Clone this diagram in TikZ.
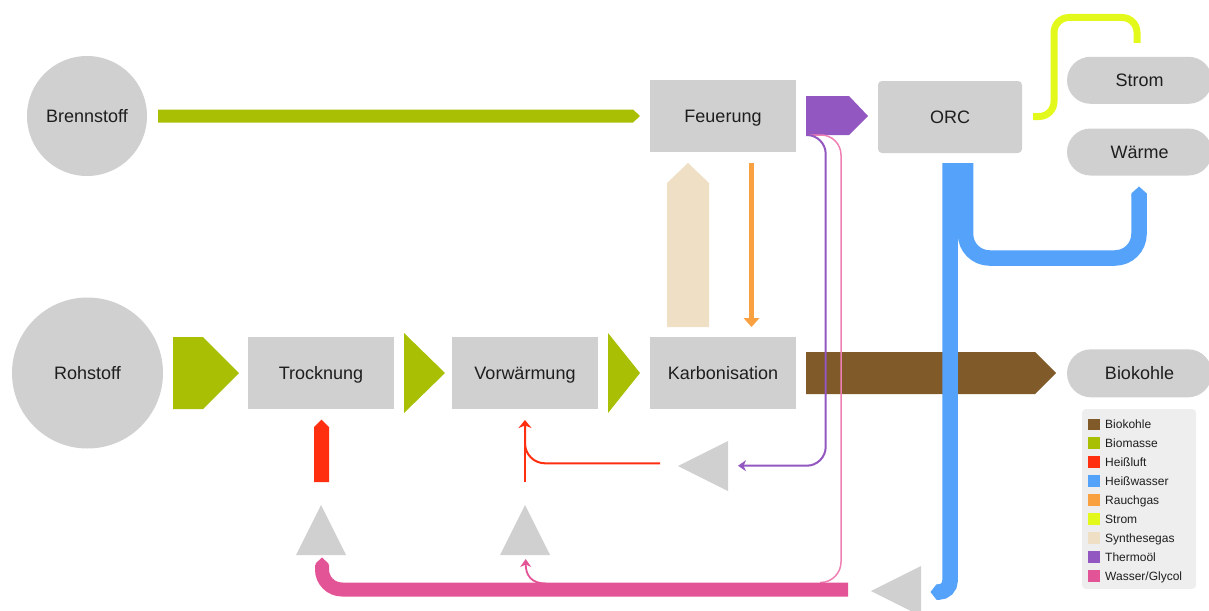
\documentclass[tikz,border=0pt]{standalone}
\usepackage{fontspec}
\setmainfont{Liberation Sans}
\usetikzlibrary{arrows.meta}
\definecolor{nodegray}{HTML}{D0D0D0}
\definecolor{txt}{HTML}{1E1E1E}
\definecolor{cBiokohle}{HTML}{805A28}
\definecolor{cBiomasse}{HTML}{A8BF04}
\definecolor{cHeissluft}{HTML}{FF2F10}
\definecolor{cHeisswasser}{HTML}{55A2FB}
\definecolor{cRauchgas}{HTML}{F9A040}
\definecolor{cStrom}{HTML}{E3F91C}
\definecolor{cSynthesegas}{HTML}{EFDFC4}
\definecolor{cThermooel}{HTML}{9257C0}
\definecolor{cGlycol}{HTML}{E35497}
\definecolor{cGlycolThin}{HTML}{EE80B4}
\definecolor{legbg}{HTML}{EEEEEE}
\tikzset{
  gnode/.style={fill=nodegray, draw=none, inner sep=0pt, text=txt, text height=13pt, text depth=0pt, font=\fontsize{18}{20}\selectfont},
  circnode/.style={gnode, circle},
  boxnode/.style={gnode, rectangle, minimum width=146, minimum height=72},
  pill/.style={gnode, rectangle, rounded corners=23.5, minimum width=145, minimum height=47},
  tri/.style={fill=nodegray, draw=none},
  legtext/.style={anchor=west, inner sep=0pt, text=txt, text height=8.6pt, text depth=0pt, font=\fontsize{12}{14}\selectfont},
  thin/.style={line width=2, line cap=butt},
}
\begin{document}
\begin{tikzpicture}[x=1pt, y=-1pt]
\useasboundingbox (0,0) rectangle (1209,610);
\clip (0,0) rectangle (1209,610);

% ---------------- nodes ----------------
\node[circnode, minimum size=120] (brenn) at (87,116) {Brennstoff};
\node[circnode, minimum size=151] (roh) at (87.5,373) {Rohstoff};
\node[boxnode] (feu) at (723,116) {Feuerung};
\node[boxnode, rounded corners=4, minimum width=144, minimum height=72] (orc) at (950,117) {ORC};
\node[boxnode] (troc) at (321,373) {Trocknung};
\node[boxnode] (vorw) at (525,373) {Vorwärmung};
\node[boxnode] (karb) at (723,373) {Karbonisation};
\node[pill] (strom) at (1139.5,80.3) {Strom};
\node[pill] (waerme) at (1139.5,152) {Wärme};
\node[pill, minimum height=48, rounded corners=24] (bio) at (1139.5,373.3) {Biokohle};

% gray triangles (splitters)
\fill[tri] (296,555) -- (321,505) -- (346,555) -- cycle;
\fill[tri] (500,555) -- (525,505) -- (550,555) -- cycle;
\fill[tri] (678,466) -- (728,441) -- (728,491) -- cycle;
\fill[tri] (871,591) -- (921,566) -- (921,616) -- cycle;

% ---------------- flows ----------------
% Biomasse
\fill[cBiomasse] (158,109.5) -- (633,109.5) -- (640,116) -- (633,122.5) -- (158,122.5) -- cycle;
\fill[cBiomasse] (173,337) -- (203,337) -- (239,373) -- (203,409) -- (173,409) -- cycle;
\fill[cBiomasse] (404,333) -- (445,373) -- (404,413) -- cycle;
\fill[cBiomasse] (608,333) -- (640,373) -- (608,413) -- cycle;

% Synthesegas
\fill[cSynthesegas] (667,327) -- (667,183) -- (688,163) -- (709,183) -- (709,327) -- cycle;

% Rauchgas
\draw[cRauchgas, line width=5.5] (751.5,162.5) -- (751.5,319);
\fill[cRauchgas] (743.5,318) -- (759.5,318) -- (751.5,327) -- cycle;

% Thermooel (thick)
\fill[cThermooel] (806,96) -- (849,96) -- (868,116) -- (849,135) -- (806,135) -- cycle;

% Biokohle
\fill[cBiokohle] (806,352) -- (1035,352) -- (1056,373) -- (1035,394) -- (806,394) -- cycle;

% Thermooel (thin) and Wasser/Glycol (thin)
\draw[cGlycolThin, line width=1.5, rounded corners=20] (806,135) -- (841,135) -- (841,582) -- (820,582.5);
\draw[cThermooel, thin, rounded corners=19, -{Stealth[length=8pt,width=11pt,inset=2.5pt]}] (806,135) -- (825.7,135) -- (825.7,465.7) -- (738,465.7);

% Wasser/Glycol thick
\draw[cGlycol, line width=14, rounded corners=20] (848,589.5) -- (322,589.5) -- (322,565);
\fill[cGlycol] (315.5,566) -- (315.5,563.5) -- (322,557.5) -- (328.5,563.5) -- (328.5,566) -- cycle;
\draw[cGlycol, line width=1.8, -{Stealth[length=8pt,width=11pt,inset=2.5pt]}] (546,583.5) .. controls (531,583.5) and (525.7,575) .. (525.7,559);

% Heissluft
\fill[cHeissluft] (314,482) -- (314,427) -- (321.5,419.5) -- (329,427) -- (329,482) -- cycle;
\draw[cHeissluft, line width=2.5] (525,482) -- (525,430);
\draw[cHeissluft, line width=2, rounded corners=20, -{Stealth[length=8pt,width=13pt,inset=2.5pt]}] (660,463.3) -- (525,463.3) -- (525,420);

% Heisswasser
\draw[cHeisswasser, line width=15.5, rounded corners=24] (965.5,163) -- (965.5,258) -- (1139,258) -- (1139,195);
\fill[cHeisswasser] (1131.25,196) -- (1131.25,193.5) -- (1139,186.5) -- (1146.75,193.5) -- (1146.75,196) -- cycle;
\draw[cHeisswasser, line width=15.5, rounded corners=11] (950,163) -- (950,592) -- (937,592);
\fill[cHeisswasser] (938,584.25) -- (936.5,584.25) -- (930.5,592) -- (936.5,599.75) -- (938,599.75) -- cycle;

% Strom
\draw[cStrom, line width=7, rounded corners=15] (1033,116.5) -- (1054,116.5) -- (1054,17.5) -- (1137,17.5) -- (1137,43);

% ---------------- legend ----------------
\fill[legbg, rounded corners=4] (1082,409) rectangle (1196,589);
\foreach \c/\t [count=\i] in {cBiokohle/Biokohle, cBiomasse/Biomasse, cHeissluft/Heißluft,
    cHeisswasser/Heißwasser, cRauchgas/Rauchgas, cStrom/Strom, cSynthesegas/Synthesegas,
    cThermooel/Thermoöl, cGlycol/{Wasser/Glycol}} {
  \fill[\c] (1088,{424.3+18.93*(\i-1)-5.8}) rectangle (1099.6,{424.3+18.93*(\i-1)+5.8});
  \node[legtext] (leg\i) at (1105,{424.3+18.93*(\i-1)}) {\t};
}
\end{tikzpicture}
\end{document}
